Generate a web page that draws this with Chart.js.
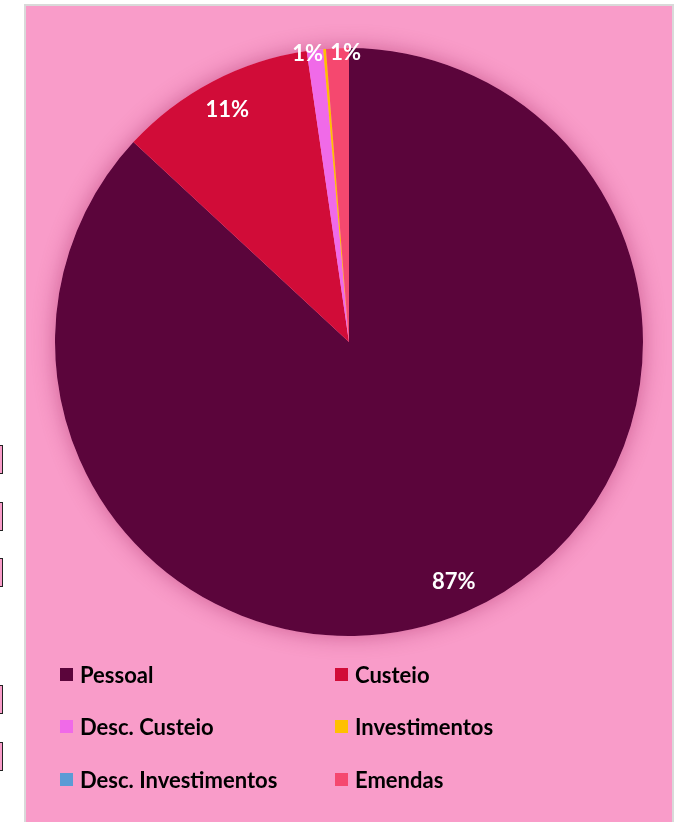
<!DOCTYPE html>
<html>
<head>
<meta charset="utf-8">
<script src="https://cdn.jsdelivr.net/npm/chart.js@4/dist/chart.umd.min.js"></script>
<style>
  html, body { margin: 0; padding: 0; background: #fff; }
  body { width: 675px; height: 822px; position: relative; overflow: hidden; font-family: Lato, "Open Sans", sans-serif; }
  #frame { position: absolute; left: 24px; top: 4px; width: 646px; height: 820px; border: 2px solid #d9d9d9; border-bottom: none; background: #f99cc9; }
  #wrap { position: absolute; left: 0; top: 0; width: 675px; height: 660px; }
  #legend { position: absolute; left: 60px; top: 648px; display: grid; grid-template-columns: 275px 220px; row-gap: 0; }
  .item { display: flex; align-items: center; height: 52.5px; font-weight: bold; font-size: 22px; color: #000; }
  .box { width: 13px; height: 13px; margin-right: 7px; flex: none; }
  .cell { position: absolute; left: 0; width: 2px; height: 27px; background: #f99cc9; border-top: 1px solid #222; border-bottom: 1px solid #222; border-right: 1px solid #222; }
</style>
</head>
<body>
<div id="frame"></div>
<div class="cell" style="top:445px"></div>
<div class="cell" style="top:502px"></div>
<div class="cell" style="top:558px"></div>
<div class="cell" style="top:685px"></div>
<div class="cell" style="top:742px"></div>
<div id="wrap"><canvas id="pie"></canvas></div>
<div id="legend"></div>
<script>
// Distribuição do orçamento (%)
const categories = ['Pessoal', 'Custeio', 'Desc. Custeio', 'Investimentos', 'Desc. Investimentos', 'Emendas'];
const values = [86.9, 10.8, 0.9, 0.15, 0, 1.25];
const shownLabels = ['87%', '11%', '1%', '', '', '1%'];
const colors = ['#5b053b', '#d10c38', '#f06ae8', '#ffc000', '#5b9bd5', '#f5486f'];

// sombra suave por baixo da pizza
const shadowPlugin = {
  id: 'pieShadow',
  beforeDatasetsDraw(chart) {
    const arc = chart.getDatasetMeta(0).data[0];
    if (!arc) return;
    const ctx = chart.ctx;
    ctx.save();
    ctx.shadowColor = 'rgba(150, 20, 80, 0.45)';
    ctx.shadowBlur = 22;
    ctx.fillStyle = '#f99cc9';
    ctx.beginPath();
    ctx.arc(arc.x, arc.y, arc.outerRadius, 0, Math.PI * 2);
    ctx.fill();
    ctx.restore();
  },
};

// rótulos brancos dentro das fatias (os pequenos ficam na borda e se afastam)
const labelPlugin = {
  id: 'sliceLabels',
  afterDatasetsDraw(chart) {
    const ctx = chart.ctx;
    const pts = [];
    chart.getDatasetMeta(0).data.forEach((arc, i) => {
      if (!shownLabels[i]) return;
      const mid = (arc.startAngle + arc.endAngle) / 2;
      const small = values[i] < 3;
      const r = arc.outerRadius * (small ? 0.985 : 0.89);
      pts.push({ txt: shownLabels[i], small, x: arc.x + Math.cos(mid) * r, y: arc.y + Math.sin(mid) * r });
    });
    const smalls = pts.filter(p => p.small);
    for (let k = 1; k < smalls.length; k++) {
      const a = smalls[k - 1], b = smalls[k];
      const gap = Math.abs(b.x - a.x);
      if (gap < 38) {
        const push = (38 - gap) / 2 * Math.sign(b.x - a.x || 1);
        a.x -= push; b.x += push;
      }
    }
    ctx.save();
    ctx.fillStyle = '#fff';
    ctx.font = 'bold 22px Lato, "Open Sans", sans-serif';
    ctx.textAlign = 'center';
    ctx.textBaseline = 'middle';
    pts.forEach(p => ctx.fillText(p.txt, p.x, p.y));
    ctx.restore();
  },
};

const chart = new Chart(document.getElementById('pie'), {
  type: 'pie',
  data: {
    labels: categories,
    datasets: [{ data: values, backgroundColor: colors, borderWidth: 0 }],
  },
  options: {
    responsive: true, maintainAspectRatio: false, animation: false,
    layout: { padding: { left: 55, top: 48, right: 32, bottom: 24 } },
    plugins: { legend: { display: false }, tooltip: { enabled: false } },
    events: [],
  },
  plugins: [shadowPlugin, labelPlugin],
});

// legenda em duas colunas
const legendEl = document.getElementById('legend');
categories.forEach((name, i) => {
  const item = document.createElement('div');
  item.className = 'item';
  item.innerHTML = '<span class="box" style="background:' + colors[i] + '"></span>' + name;
  legendEl.appendChild(item);
});
</script>
</body>
</html>
